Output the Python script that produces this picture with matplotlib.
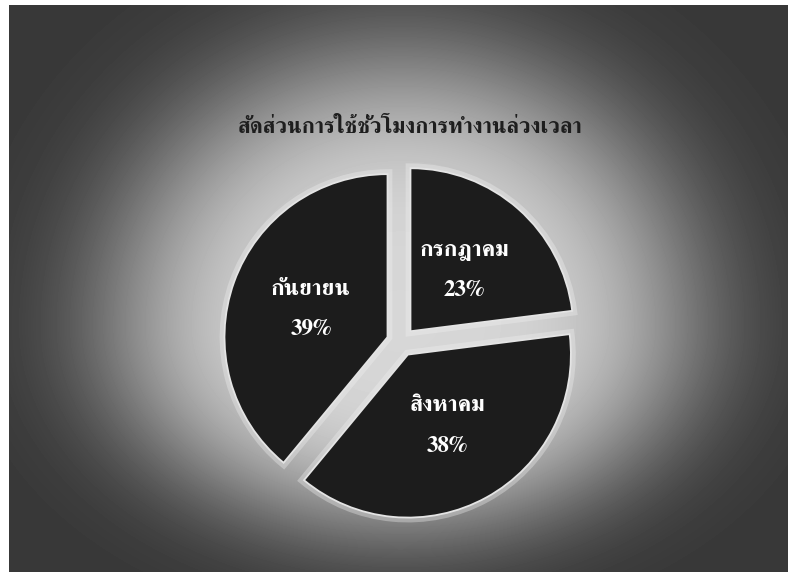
import numpy as np
import matplotlib
matplotlib.use("Agg")
import matplotlib.pyplot as plt

# ---- data ----
title = "สัดส่วนการใช้ชั่วโมงการทำงานล่วงเวลา"
months = ["กรกฎาคม", "สิงหาคม", "กันยายน"]
shares = [23, 38, 39]

FONT = ["FreeSerif", "DejaVu Serif"]
W, H = 795, 574
fig = plt.figure(figsize=(W / 100, H / 100), dpi=100, facecolor="white")

# ---- background panel (pixel frame) ----
fl, fr, ft, fb = 9, 788, 5, 572
bg = fig.add_axes([fl / W, 1 - fb / H, (fr - fl) / W, (fb - ft) / H])
yy, xx = np.mgrid[ft:fb, fl:fr].astype(float)
cx, cy = 400.0, 325.0
ry = np.where(yy < cy, 300.0, 225.0)
d = np.sqrt(((xx - cx) / 320.0) ** 2 + ((yy - cy) / ry) ** 2)
v = 0.22 + 0.62 * np.exp(-(d / 0.93) ** 4)
bg.imshow(v, cmap="gray", vmin=0, vmax=1, aspect="auto", interpolation="bilinear")
bg.set_axis_off()

# ---- pie ----
cxp, cyp, r = 401.0, 342.0, 163.0
half = 1.2 * r
ax = fig.add_axes([(cxp - half) / W, 1 - (cyp + half) / H, 2 * half / W, 2 * half / H])
ax.set_xlim(-1.2, 1.2)
ax.set_ylim(-1.2, 1.2)
ax.set_aspect("equal")
ax.set_axis_off()

explode = [0.088] * len(shares)
# glow behind wedges
ax.pie(shares, startangle=90, counterclock=False, explode=explode,
       colors=["#1b1b1b"] * 3,
       wedgeprops=dict(edgecolor="#f2f2f2", linewidth=7, alpha=0.35))
lab_iter = iter(months)
wedges, texts, autotexts = ax.pie(
    shares, startangle=90, counterclock=False, explode=explode,
    colors=["#1c1c1c"] * 3,
    wedgeprops=dict(edgecolor="#e4e4e4", linewidth=1.3),
    autopct=lambda p: f"{next(lab_iter)}\n{p:.0f}%", pctdistance=0.5,
    textprops=dict(color="white", fontsize=16.5, fontweight="bold",
                   family=FONT, linespacing=2.2, ha="center", va="center"))
ax.set_xlim(-1.2, 1.2)
ax.set_ylim(-1.2, 1.2)

# ---- title ----
fig.text(410 / W, 1 - 128 / H, title, ha="center", va="center",
         fontsize=15.8, fontweight="bold", color="#1e1e1e", family=FONT)

fig.savefig("out.png", dpi=100, facecolor="white")
